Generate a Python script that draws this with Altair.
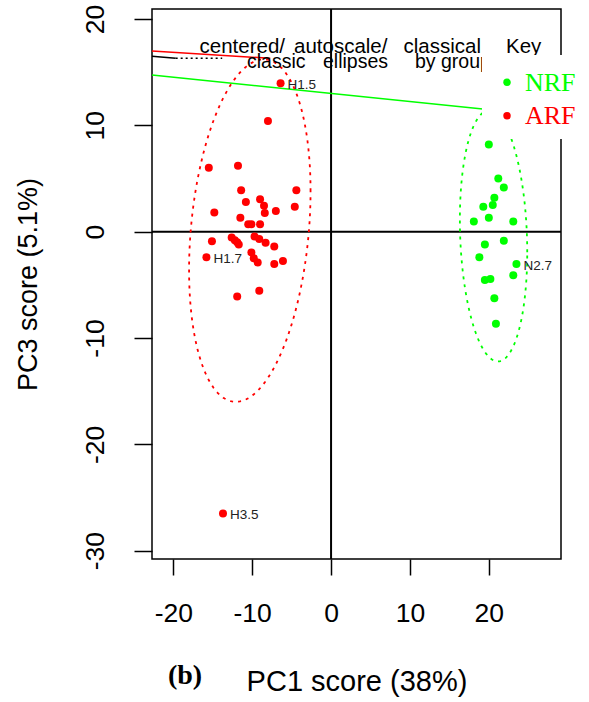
import altair as alt
import numpy as np
import pandas as pd

# PCA scores (PC1, PC3) for the two groups
arf_pc1 = [-6.4, -8.0, -15.5, -11.8, -11.4, -4.4, -10.8, -9.0, -8.5, -4.6,
           -14.8, -8.4, -7.0, -11.5, -10.5, -10.1, -9.0, -15.1, -12.6, -12.2,
           -11.9, -11.7, -9.7, -9.1, -8.3, -7.2, -15.8, -10.1, -9.8, -9.3,
           -7.2, -6.1, -11.9, -9.1, -13.7]
arf_pc3 = [13.95, 10.4, 6.0, 6.2, 3.9, 3.9, 2.8, 3.05, 2.45, 2.35,
           1.8, 1.75, 1.95, 1.3, 0.7, 0.7, 0.7, -0.9, -0.55, -0.8,
           -1.0, -1.2, -0.45, -0.7, -1.05, -1.4, -2.4, -1.95, -2.5, -2.9,
           -3.05, -2.75, -6.1, -5.55, -26.5]
arf_tag = ["H1.5"] + [""] * 25 + ["H1.7"] + [""] * 7 + ["H3.5"]

nrf_pc1 = [20.0, 21.2, 21.9, 20.7, 20.5, 19.3, 18.1, 20.0, 23.1, 19.5,
           21.9, 18.8, 23.5, 23.1, 19.5, 20.2, 20.7, 20.9]
nrf_pc3 = [8.2, 5.0, 4.15, 3.2, 2.5, 2.35, 0.95, 1.3, 0.95, -1.2,
           -0.85, -2.4, -3.05, -4.1, -4.55, -4.45, -6.25, -8.65]
nrf_tag = [""] * 12 + ["N2.7"] + [""] * 5

key_groups = ["NRF", "ARF"]
key_colors = ["#00FF00", "#FF0000"]

# group ellipses: centre (PC1, PC3), half-extent along PC1 / PC3, correlation
ell_center = {"ARF": (-10.3, 0.1), "NRF": (20.6, -0.4)}
ell_extent = {"ARF": (7.7, 16.1), "NRF": (4.27, 11.8)}
ell_corr = {"ARF": 0.23, "NRF": -0.13}

# stray key segments crossing the top of the panel
red_seg_x, red_seg_y = [-22.7, -7.7], [17.0, 16.3]
black_seg_x, black_seg_y = [-22.7, -19.7], [16.5, 16.3]
black_dot_x, black_dot_y = [-19.7, -13.8], [16.3, 16.3]
green_seg_x, green_seg_y = [-22.7, 22.0], [14.73, 11.32]

x_ticks = [-20, -10, 0, 10, 20]
y_ticks = [-30, -20, -10, 0, 10, 20]
X_DOM = [-22.7, 29.15]
Y_DOM = [-30.78, 20.94]

W, H = 409, 550
FONT = "Liberation Sans"
SERIF = "Liberation Serif"

xs = alt.Scale(domain=X_DOM, nice=False, zero=False)
ys = alt.Scale(domain=Y_DOM, nice=False, zero=False)


def ellipse_frame(name, n=240):
    cx, cy = ell_center[name]
    sx, sy = ell_extent[name]
    r = ell_corr[name]
    cov = np.array([[sx * sx, r * sx * sy], [r * sx * sy, sy * sy]])
    L = np.linalg.cholesky(cov)
    t = np.linspace(0, 2 * np.pi, n)
    e = np.array([[cx], [cy]]) + L @ np.vstack([np.cos(t), np.sin(t)])
    return pd.DataFrame({"x": e[0], "y": e[1], "i": np.arange(n)})


arf = pd.DataFrame({"x": arf_pc1, "y": arf_pc3, "tag": arf_tag})
nrf = pd.DataFrame({"x": nrf_pc1, "y": nrf_pc3, "tag": nrf_tag})

plain_number = "'' + datum.value"

x_enc = alt.X("x:Q", scale=xs, axis=alt.Axis(
    values=x_ticks, title="PC1 score (38%)", grid=False, domain=False,
    tickSize=16, tickWidth=1.5, tickColor="black",
    labelFont=FONT, labelFontSize=26.5, labelColor="black", labelExpr=plain_number,
    labelBaseline="alphabetic", labelPadding=46,
    titleFont=FONT, titleFontSize=29, titleFontWeight="normal", titleColor="black",
    titleBaseline="alphabetic", titleX=W / 2, titleY=131, titleAnchor="middle"))
y_enc = alt.Y("y:Q", scale=ys, axis=alt.Axis(
    values=y_ticks, title="PC3 score (5.1%)", grid=False, domain=False,
    tickSize=18, tickWidth=1.5, tickColor="black",
    labelFont=FONT, labelFontSize=26.5, labelColor="black", labelExpr=plain_number,
    labelAngle=-90, labelAlign="center", labelBaseline="alphabetic", labelPadding=31,
    titleFont=FONT, titleFontSize=27, titleFontWeight="normal", titleColor="black",
    titleAngle=-90, titleBaseline="middle", titleAlign="center",
    titleX=-124, titleY=H / 2, titleAnchor="middle"))

layers = []

# zero reference lines
layers.append(alt.Chart(pd.DataFrame({"x": [0]})).mark_rule(color="black", strokeWidth=2)
              .encode(x=x_enc))
layers.append(alt.Chart(pd.DataFrame({"y": [0]})).mark_rule(color="black", strokeWidth=2)
              .encode(y=y_enc))


def seg(xv, yv, color, dash=None, width=1.5):
    d = pd.DataFrame({"x": xv, "y": yv, "i": range(len(xv))})
    kw = dict(color=color, strokeWidth=width)
    if dash:
        kw["strokeDash"] = dash
    return alt.Chart(d).mark_line(**kw).encode(
        x=alt.X("x:Q", scale=xs), y=alt.Y("y:Q", scale=ys), order="i:Q")


layers.append(seg(red_seg_x, red_seg_y, "#FF0000"))
layers.append(seg(black_seg_x, black_seg_y, "black"))
layers.append(seg(black_dot_x, black_dot_y, "black", dash=[2, 3]))
layers.append(seg(green_seg_x, green_seg_y, "#00FF00"))

# group ellipses
for name, col in [("ARF", "#FF0000"), ("NRF", "#00FF00")]:
    e = ellipse_frame(name)
    layers.append(alt.Chart(e).mark_line(color=col, strokeWidth=1.8,
                                         strokeDash=[3, 5], strokeCap="butt")
                  .encode(x=alt.X("x:Q", scale=xs), y=alt.Y("y:Q", scale=ys), order="i:Q"))

# scores
for df, col in [(arf, "#FF0000"), (nrf, "#00FF00")]:
    base = alt.Chart(df).encode(x=alt.X("x:Q", scale=xs), y=alt.Y("y:Q", scale=ys))
    layers.append(base.mark_circle(color=col, size=64, opacity=1))
    layers.append(base.transform_filter("datum.tag != ''").mark_text(
        align="left", baseline="middle", dx=7, dy=2, font=FONT, fontSize=13.5,
        color="#222222").encode(text="tag:N"))


def note(txt, x, y, size, font=FONT, color="black", weight="normal", align="left"):
    return alt.Chart(pd.DataFrame({"t": [txt]})).mark_text(
        align=align, baseline="alphabetic", font=font, fontSize=size,
        fontWeight=weight, color=color).encode(
        x=alt.value(x), y=alt.value(y), text="t:N")


# plot header, set in loosely spaced pieces
for piece, xp in [("centered/", 47.5), ("autoscale/", 142), ("classical", 251.5), ("Key", 354)]:
    layers.append(note(piece, xp, 44, 20.5))
for piece, xp in [("classic", 95), ("ellipses", 171), ("by group", 263)]:
    layers.append(note(piece, xp, 59, 19.5))

# key box
layers.append(alt.Chart(pd.DataFrame({"k": [0]})).mark_rect(color="white").encode(
    x=alt.value(330), x2=alt.value(440), y=alt.value(46), y2=alt.value(130)))
for i, (g, c) in enumerate(zip(key_groups, key_colors)):
    yy = 73.3 + 33.4 * i
    layers.append(alt.Chart(pd.DataFrame({"g": [g]})).mark_circle(color=c, size=55, opacity=1)
                  .encode(x=alt.value(355), y=alt.value(yy)))
    layers.append(note(g, 373, yy + 8.5, 26, font=SERIF, color=c))

layers.append(note("(b)", 33, 675, 28, font=SERIF, weight="bold", align="center"))

chart = alt.layer(*layers).properties(
    width=W, height=H,
    autosize=alt.AutoSizeParams(type="none"),
    padding={"left": 152, "top": 9, "right": 28, "bottom": 143},
    background="white",
).configure_view(stroke="black", strokeWidth=1.5)

chart.save("out.html", embed_options={"renderer": "svg", "actions": False})
